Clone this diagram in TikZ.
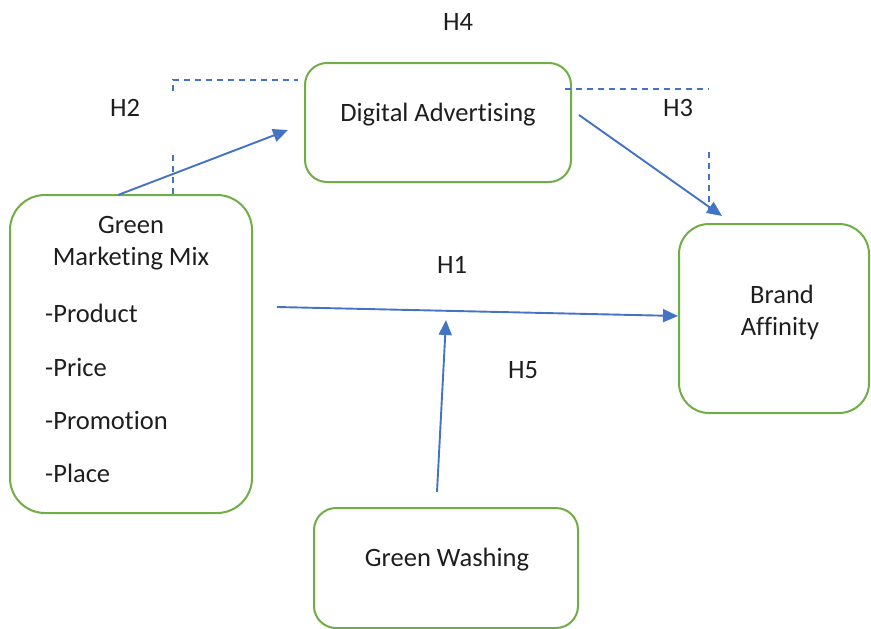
\documentclass[tikz,border=0pt]{standalone}
\usepackage{fontspec}
\setmainfont{Carlito}[RawFeature={-liga;-dlig;-clig}]
\usetikzlibrary{arrows.meta}
\definecolor{boxgreen}{HTML}{70AD47}
\definecolor{arrblue}{HTML}{4472C4}
\definecolor{txt}{HTML}{1E1E1E}
\begin{document}
\begin{tikzpicture}[x=1pt,y=-1pt,
  box/.style={draw=boxgreen,line width=2pt,rounded corners=#1,inner sep=0pt},
  lbl/.style={text=txt,font=\fontsize{26.5}{30}\selectfont,inner sep=0pt},
  arr/.style={draw=arrblue,line width=1.9pt,-{Triangle[length=15pt,width=13pt]}},
  dsh/.style={draw=arrblue,line width=1.9pt,dash pattern=on 6pt off 5pt}]
\useasboundingbox (0,0) rectangle (871,629);
% boxes
\node[box=22pt,minimum width=266pt,minimum height=119pt] (da) at (438,122.5) {};
\node[box=35pt,minimum width=242pt,minimum height=318pt] (gm) at (131,354) {};
\node[box=30pt,minimum width=190pt,minimum height=189pt] (ba) at (774,318.5) {};
\node[box=22pt,minimum width=264pt,minimum height=120pt] (gw) at (446,568) {};
% texts
\node[lbl] (tda) at (438,115) {Digital Advertising};
\node[lbl] (tgm1) at (131,225) {Green};
\node[lbl] (tgm2) at (131,259) {Marketing Mix};
\node[lbl,anchor=west] (tp1) at (45,313) {-Product};
\node[lbl,anchor=west] (tp2) at (45,367) {-Price};
\node[lbl,anchor=west] (tp3) at (45,420) {-Promotion};
\node[lbl,anchor=west] (tp4) at (45,473) {-Place};
\node[lbl] (tba1) at (782,294) {Brand};
\node[lbl] (tba2) at (780,329) {Affinity};
\node[lbl] (tgw) at (447,560) {Green Washing};
% hypothesis labels
\node[lbl] (h4) at (458,22) {H4};
\node[lbl] (h2) at (125,108) {H2};
\node[lbl] (h3) at (678,108) {H3};
\node[lbl] (h1) at (452,265) {H1};
\node[lbl] (h5) at (523,370) {H5};
% coordinates
\coordinate (h2s) at (118,195);
\coordinate (h2e) at (288,130);
\coordinate (h3s) at (579,115);
\coordinate (h3e) at (722,216);
\coordinate (h1s) at (277,307);
\coordinate (h1e) at (678,316);
\coordinate (h5s) at (437,492);
\coordinate (h5e) at (446,320);
\coordinate (d1) at (173,194);
\coordinate (d2) at (173,150);
\coordinate (d3) at (173,91);
\coordinate (d4) at (173,80);
\coordinate (d5) at (298,80);
\coordinate (e1) at (565,89);
\coordinate (e2) at (709,89);
\coordinate (e3) at (709,152);
\coordinate (e4) at (709,218);
% dashed H4 lines
\draw[dsh] (d1) -- (d2);
\draw[dsh] (d3) -- (d4) -- (d5);
\draw[dsh] (e1) -- (e2);
\draw[dsh] (e3) -- (e4);
% arrows
\draw[arr] (h2s) -- (h2e);
\draw[arr] (h3s) -- (h3e);
\draw[arr] (h1s) -- (h1e);
\draw[arr] (h5s) -- (h5e);
\end{tikzpicture}
\end{document}
